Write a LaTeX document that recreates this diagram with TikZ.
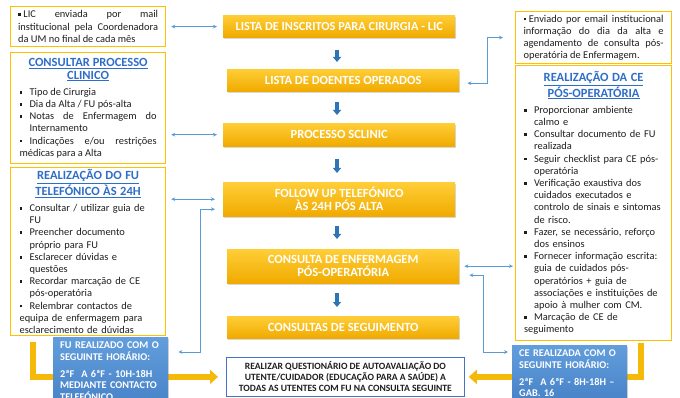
\documentclass[tikz,border=0pt]{standalone}
\usepackage{fontspec}
\setmainfont{Carlito}
\usetikzlibrary{arrows.meta,shadows,calc}
\definecolor{gold}{RGB}{255,192,0}
\definecolor{goldtop}{RGB}{255,206,55}
\definecolor{goldbot}{RGB}{240,170,0}
\definecolor{oarr}{RGB}{245,185,10}
\definecolor{bline}{RGB}{91,155,213}
\definecolor{darr}{RGB}{46,117,182}
\definecolor{ttl}{RGB}{46,110,200}
\definecolor{bluetop}{RGB}{98,158,220}
\definecolor{bluebot}{RGB}{72,130,200}
\definecolor{txt}{RGB}{30,30,30}
\definecolor{botborder}{RGB}{68,114,196}
\setlength\parindent{0pt}
\hyphenpenalty=10000
\tolerance=9999
\emergencystretch=15pt
\hbadness=10000
\hfuzz=5pt
\newcommand\sqb{\raisebox{1.7pt}{\rule{2.8pt}{2.8pt}}}
\newcommand\bli{\par\hangindent=10pt\hangafter=1\noindent\makebox[10pt][l]{\sqb}}
\newcommand\titl[2]{{\centering\fontsize{12.5}{12.6}\selectfont\bfseries\color{ttl}\underline{#1}\\\underline{#2}\par}\vspace{4pt}}
\tikzset{
  sidebox/.style={draw=gold, line width=1.2pt, fill=white, inner ysep=1pt, text=txt,
    font=\fontsize{10.4}{12.2}\selectfont, anchor=north west},
  cbox/.style={top color=goldtop, bottom color=goldbot, draw=none, minimum width=232pt,
    text=white, font=\bfseries\fontsize{12.5}{13}\selectfont, align=center, inner sep=0pt,
    drop shadow={shadow xshift=1pt,shadow yshift=-1.5pt,opacity=0.3}, anchor=north west},
  bluebox/.style={top color=bluetop, bottom color=bluebot, draw=none, text=white,
    font=\bfseries\fontsize{10.3}{11.8}\selectfont, align=left, anchor=north west,
    inner xsep=7pt, inner ysep=4.5pt, text width=101pt,
    drop shadow={shadow xshift=1pt,shadow yshift=-1.5pt,opacity=0.3}},
  darrow/.style={draw=darr, line width=3.2pt, -{Triangle[width=8pt,length=5pt]}},
  oarrow/.style={draw=oarr, line width=5.5pt, -{Triangle[width=14pt,length=8pt]}},
  bconn/.style={draw=bline, line width=0.75pt, {Stealth[length=4pt,width=3.6pt]}-{Stealth[length=4pt,width=3.6pt]}}
}
\begin{document}
\begin{tikzpicture}[x=1pt,y=-1pt]
\useasboundingbox (0,0) rectangle (680,398);
\clip (0,0) rectangle (680,398);
\fill[white] (0,0) rectangle (680,398);

% centre column
\node[cbox, minimum height=22pt, font=\bfseries\fontsize{12.3}{13}\selectfont] (c1) at (223,15) {LISTA DE INSCRITOS PARA CIRURGIA - LIC};
\node[cbox, minimum height=22pt] (c2) at (227,69) {LISTA DE DOENTES OPERADOS};
\node[cbox, minimum height=23pt] (c3) at (223,123) {PROCESSO SCLINIC};
\node[cbox, minimum height=34pt] (c4) at (223,182) {FOLLOW UP TELEFÓNICO\\ÀS 24H PÓS ALTA};
\node[cbox, minimum height=34pt] (c5) at (227,249) {CONSULTA DE ENFERMAGEM\\PÓS-OPERATÓRIA};
\node[cbox, minimum height=22pt] (c6) at (227,316) {CONSULTAS DE SEGUIMENTO};

\coordinate (ax) at (337,0);
\draw[darrow, shorten <=13pt, shorten >=7pt] (c1.south -| ax) -- (c2.north -| ax);
\draw[darrow, shorten <=11pt, shorten >=8pt] (c2.south -| ax) -- (c3.north -| ax);
\draw[darrow, shorten <=13pt, shorten >=9pt] (c3.south -| ax) -- (c4.north -| ax);
\draw[darrow, shorten <=10pt, shorten >=10pt] (c4.south -| ax) -- (c5.north -| ax);
\draw[darrow, shorten <=10pt, shorten >=9pt] (c5.south -| ax) -- (c6.north -| ax);

% bottom box
\node[draw=botborder, line width=0.8pt, fill=white, minimum width=238pt, minimum height=39pt,
  anchor=north west, align=center, inner sep=0pt, text=txt,
  font=\bfseries\fontsize{9.6}{11}\selectfont] (bot) at (226,357)
  {REALIZAR QUESTIONÁRIO DE AUTOAVALIAÇÃO DO\\UTENTE/CUIDADOR (EDUCAÇÃO PARA A SAÚDE) A\\TODAS AS UTENTES COM FU NA CONSULTA SEGUINTE};

% left column
\node[sidebox, text width=140pt, inner xsep=7.5pt, minimum height=40pt, align=justify] (l1) at (10,6)
  {\vspace*{1pt}\sqb\hspace{2.5pt}LIC enviada por mail\linebreak institucional pela Coordenadora\linebreak da UM no final de cada mês};
\node[sidebox, text width=137pt, inner xsep=9pt, minimum height=111pt, align=justify] (l2) at (10,52)
  {\titl{CONSULTAR PROCESSO}{CLINICO}%
   \bli Tipo de Cirurgia
   \bli Dia da Alta / FU pós-alta
   \bli Notas de Enfermagem do\linebreak Internamento
   \bli Indicações e/ou restrições\linebreak médicas para a Alta};
\node[sidebox, text width=137pt, inner xsep=9pt, minimum height=168pt, align=left] (l3) at (10,167)
  {\titl{REALIZAÇÃO DO FU}{TELEFÓNICO ÀS 24H}\raggedright
   \bli Consultar / utilizar guia de\newline FU
   \bli Preencher documento\newline próprio para FU
   \bli Esclarecer dúvidas e\newline questões
   \bli Recordar marcação de CE\newline pós-operatória
   \bli Relembrar contactos de\newline equipa de enfermagem para\newline esclarecimento de dúvidas};

% right column
\node[sidebox, text width=140pt, inner xsep=8pt, minimum height=52pt, align=justify] (r1) at (515,11)
  {\sqb\hspace{2.5pt}Enviado por email institucional\linebreak informação do dia da alta e\linebreak agendamento de consulta pós-\linebreak operatória de Enfermagem.};
\node[sidebox, text width=139pt, inner xsep=8.5pt, minimum height=275pt, align=left] (r2) at (515,65)
  {\titl{REALIZAÇÃO DA CE}{PÓS-OPERATÓRIA}\raggedright
   \bli Proporcionar ambiente\newline calmo e
   \bli Consultar documento de FU\newline realizada
   \bli Seguir checklist para CE pós-\newline operatória
   \bli Verificação exaustiva dos\newline cuidados executados e\newline controlo de sinais e sintomas\newline de risco.
   \bli Fazer, se necessário, reforço\newline dos ensinos
   \bli Fornecer informação escrita:\newline guia de cuidados pós-\newline operatórios + guia de\newline associações e instituições de\newline apoio à mulher com CM.
   \bli Marcação de CE de\newline seguimento};

% orange bent arrows
\coordinate (la) at (33,342);
\coordinate (ra) at (641,343);
\draw[oarrow, shorten >=8pt] (la) |- (bot.west);
\draw[oarrow, shorten >=4pt] (ra) |- (bot.east);

% blue boxes
\node[bluebox] (fu) at (53,337)
  {FU REALIZADO COM O\\SEGUINTE HORÁRIO:\\[5pt]2ªF\ \ A 6ªF - 10H-18H\\MEDIANTE CONTACTO\\TELEFÓNICO};
\node[bluebox] (ce) at (512,345)
  {CE REALIZADA COM O\\SEGUINTE HORÁRIO:\\[5pt]2ªF\ \ A 6ªF - 8H-18H –\\GAB. 16};

% blue connectors
\draw[bconn] ([xshift=5pt]l1.east) -- ([xshift=-6pt]l1.east -| c1.west);
\draw[bconn] ([xshift=5pt]l2.east |- c3.west) -- ([xshift=-6pt]c3.west);
\draw[bconn] ([xshift=5pt]l3.east |- c4.west) -- ([xshift=-8pt]c4.west);
\draw[bconn] ([xshift=10pt,yshift=-15pt]fu.north east) -| ([xshift=-23pt,yshift=-10pt]c4.west) -- ([xshift=-8pt,yshift=-10pt]c4.west);
\draw[bconn] ([xshift=8pt,yshift=-3pt]c2.east) -| ([xshift=-28pt]r1.west) -- ([xshift=-12pt]r1.west);
\draw[bconn] ([xshift=5pt]c5.east) -- ([xshift=-2pt]c5.east -| r2.west);
\draw[bconn] ([xshift=10pt,yshift=-9pt]c5.east) -| ([xshift=-29pt,yshift=-7pt]ce.north west) -- ([xshift=-4pt,yshift=-7pt]ce.north west);
\end{tikzpicture}
\end{document}
